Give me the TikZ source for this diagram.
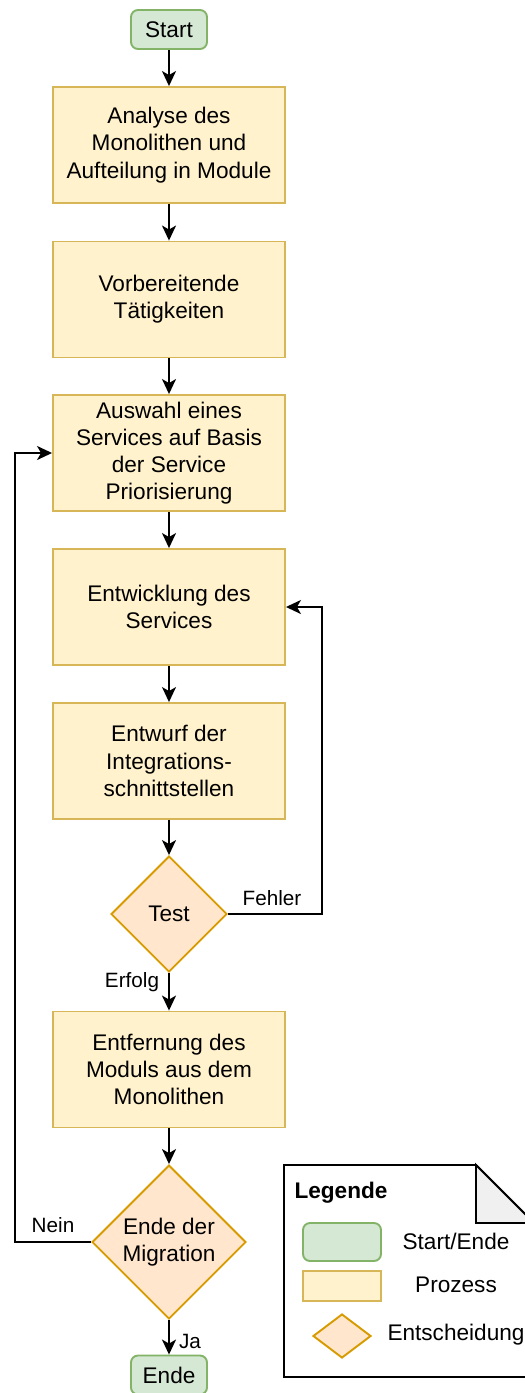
\documentclass[tikz,border=0pt]{standalone}
\usepackage{fontspec}
\setmainfont{Liberation Sans}
\usetikzlibrary{arrows.meta,shapes.geometric}

\definecolor{startfill}{HTML}{D5E8D4}
\definecolor{startline}{HTML}{82B366}
\definecolor{procfill}{HTML}{FFF2CC}
\definecolor{procline}{HTML}{D6B656}
\definecolor{decfill}{HTML}{FFE6CC}
\definecolor{decline}{HTML}{D79B00}
\definecolor{foldfill}{HTML}{F0F0F0}

\tikzset{
  terminal/.style={draw=startline, fill=startfill, rounded corners=7pt, minimum width=76pt, minimum height=39pt, inner sep=0pt},
  process/.style={draw=procline, fill=procfill, minimum width=232pt, minimum height=116pt, inner sep=0pt, align=center},
  decision/.style={draw=decline, fill=decfill, diamond, aspect=1, inner sep=0pt, align=center},
  lbl/.style={font=\fontsize{20.7}{24.8}\selectfont, inner sep=0pt},
}

\begin{document}
\begin{tikzpicture}[x=1pt, y=-1pt, >={Stealth[length=15pt,width=14pt,inset=4pt]}, line width=1.9pt, font=\fontsize{22.6}{27.2}\selectfont]
\useasboundingbox (0,0) rectangle (525,1393);

% Ablauf
\node(start)[terminal] at (169,29.5) {Start};
\node(analyse)[process] at (169,145) {Analyse des\\Monolithen und\\Aufteilung in Module};
\node(vorb)[process] at (169,299.5) {Vorbereitende\\Tätigkeiten};
\node(auswahl)[process] at (169,453) {Auswahl eines\\Services auf Basis\\der Service\\Priorisierung};
\node(entw)[process] at (169,607) {Entwicklung des\\Services};
\node(entwurf)[process] at (169,761) {Entwurf der\\Integrations-\\schnittstellen};
\node(test)[decision, minimum width=116pt, minimum height=116pt] at (169,914) {Test};
\node(entf)[process] at (169,1069.5) {Entfernung des\\Moduls aus dem\\Monolithen};
\node(mig)[decision, minimum width=154pt, minimum height=154pt] at (169,1242) {Ende der\\Migration};
\node(ende)[terminal] at (169,1375) {Ende};

\draw (start.south) edge[->] (analyse.north);
\draw (analyse.south) edge[->] (vorb.north);
\draw (vorb.south) edge[->] (auswahl.north);
\draw (auswahl.south) edge[->] (entw.north);
\draw (entw.south) edge[->] (entwurf.north);
\draw (entwurf.south) edge[->] (test.north);
\draw (test.south) edge[->] (entf.north);
\draw (entf.south) edge[->] (mig.north);
\draw (mig.south) edge[->] (ende.north);

% Rueckfuehrungen
\coordinate (fehlerknick) at (322,914);
\coordinate (neinknick) at (15,1242);
\draw[->] (test.east) -- (fehlerknick) |- (entw.east);
\draw[->] (mig.west) -- (neinknick) |- (auswahl.west);

\node(fehler)[lbl] at (272,898) {Fehler};
\node(erfolg)[lbl] at (132,982) {Erfolg};
\node(nein)[lbl] at (53,1225) {Nein};
\node(ja)[lbl] at (190,1341) {Ja};

% Legende
\draw[fill=white] (284,1165) -- (476,1165) -- (534,1223) -- (534,1377) -- (284,1377) -- cycle;
\draw[fill=foldfill] (476,1165) -- (476,1223) -- (534,1223) -- cycle;
\node(legende)[font=\bfseries\fontsize{22.6}{27.2}\selectfont] at (341,1193) {Legende};
\node(legstart)[terminal, minimum width=78pt, minimum height=38pt] at (342,1242) {};
\node(legproc)[process, minimum width=78pt, minimum height=30pt] at (342,1286) {};
\node(legdec)[decision, minimum width=58pt, minimum height=44pt] at (342,1336) {};
\node(legstarttxt) at (456,1241) {Start/Ende};
\node(legproctxt) at (456,1285) {Prozess};
\node(legdectxt) at (456,1335) {Entscheidung};
\end{tikzpicture}
\end{document}
